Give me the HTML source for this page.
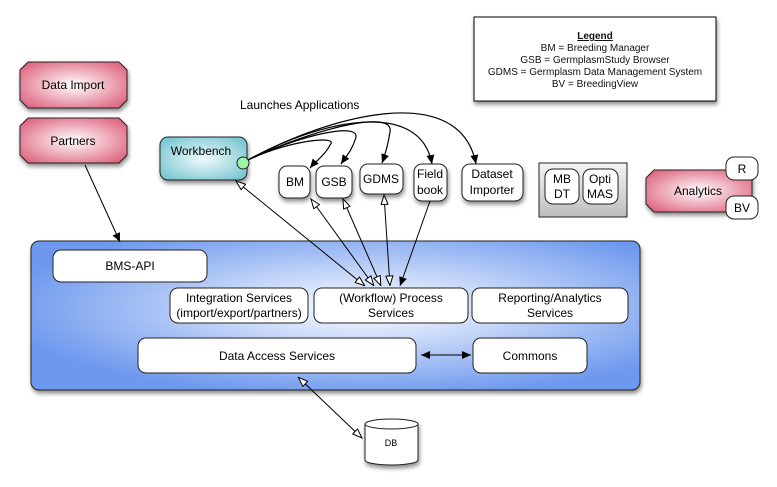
<!DOCTYPE html>
<html><head><meta charset="utf-8"><style>
body{margin:0;background:#fff;}
svg{display:block;font-family:"Liberation Sans",Arial,sans-serif;}
</style></head><body>
<svg width="777" height="487" viewBox="0 0 777 487" xmlns="http://www.w3.org/2000/svg">
<defs>
<radialGradient id="pink" cx="50%" cy="50%" r="60%"><stop offset="0" stop-color="#fff"/><stop offset="1" stop-color="#e06b85"/></radialGradient>
<radialGradient id="teal" cx="50%" cy="50%" r="60%"><stop offset="0" stop-color="#f2fcfd"/><stop offset="1" stop-color="#7cc8d2"/></radialGradient>
<radialGradient id="blue" cx="55%" cy="45%" r="60%"><stop offset="0" stop-color="#fff"/><stop offset="1" stop-color="#6d98ee"/></radialGradient>
<linearGradient id="gray" x1="0" y1="0" x2="0" y2="1"><stop offset="0" stop-color="#f4f4f4"/><stop offset="1" stop-color="#bdbdbd"/></linearGradient>
<filter id="sh" x="-10%" y="-10%" width="130%" height="140%"><feDropShadow dx="1" dy="3" stdDeviation="2" flood-opacity="0.45"/></filter>
<marker id="fa" markerWidth="10" markerHeight="10" refX="9" refY="4" orient="auto" markerUnits="userSpaceOnUse"><path d="M0,0 L9,4 L0,8 z" fill="#000"/></marker>
<marker id="oa" markerWidth="12" markerHeight="10" refX="10" refY="4" orient="auto" markerUnits="userSpaceOnUse"><path d="M0.5,0.5 L10,4 L0.5,7.5 z" fill="#fff" stroke="#000" stroke-width="1"/></marker>
<marker id="oas" markerWidth="12" markerHeight="10" refX="0" refY="4" orient="auto" markerUnits="userSpaceOnUse"><path d="M10,0.5 L0.5,4 L10,7.5 z" fill="#fff" stroke="#000" stroke-width="1"/></marker>
<marker id="fas" markerWidth="10" markerHeight="10" refX="0" refY="4" orient="auto" markerUnits="userSpaceOnUse"><path d="M9,0 L0,4 L9,8 z" fill="#000"/></marker>
</defs>

<rect x="474" y="17" width="242" height="84" fill="#fff" stroke="#000" filter="url(#sh)"/>
<g font-size="10" text-anchor="middle" fill="#111">
<text x="595" y="39" font-weight="bold" text-decoration="underline">Legend</text>
<text x="595" y="51">BM = Breeding Manager</text>
<text x="595" y="63">GSB = GermplasmStudy Browser</text>
<text x="595" y="75">GDMS = Germplasm Data Management System</text>
<text x="595" y="87">BV = BreedingView</text>
</g>

<g filter="url(#sh)" stroke="#222" fill="url(#pink)">
<path d="M28,62 H119 L127,70 V100 L119,108 H28 L20,100 V70 z"/>
<path d="M28,118 H119 L127,126 V155 L119,163 H28 L20,155 V126 z"/>
<path d="M654,170 H752 V212 H654 L646,204 V178 z"/>
</g>
<g font-size="12" text-anchor="middle">
<text x="73" y="89">Data Import</text>
<text x="73" y="145">Partners</text>
<text x="698" y="195">Analytics</text>
</g>

<rect x="160" y="137" width="87" height="43" rx="8" fill="url(#teal)" stroke="#222" filter="url(#sh)"/>
<text x="201" y="155" font-size="12" text-anchor="middle">Workbench</text>

<text x="240" y="109" font-size="12">Launches Applications</text>

<rect x="31" y="241" width="609" height="149" rx="8" fill="url(#blue)" stroke="#222" filter="url(#sh)"/>

<g fill="#fff" stroke="#222">
<rect x="279" y="166" width="31" height="32" rx="8" filter="url(#sh)"/>
<rect x="316" y="166" width="36" height="32" rx="8" filter="url(#sh)"/>
<rect x="360" y="164" width="43" height="30" rx="8" filter="url(#sh)"/>
<rect x="414" y="164" width="33" height="37" rx="8" filter="url(#sh)"/>
<rect x="462" y="164" width="61" height="37" rx="8" filter="url(#sh)"/>
<rect x="539" y="163" width="88" height="54" fill="url(#gray)" rx="0"/>
<rect x="545" y="169" width="34" height="35" rx="8"/>
<rect x="583" y="169" width="35" height="35" rx="8"/>
<rect x="726" y="157" width="32" height="23" rx="8"/>
<rect x="726" y="196" width="32" height="23" rx="8"/>
<rect x="53" y="250" width="154" height="32" rx="8"/>
<rect x="170" y="288" width="138" height="35" rx="8"/>
<rect x="314" y="288" width="154" height="35" rx="8"/>
<rect x="472" y="288" width="156" height="35" rx="8"/>
<rect x="138" y="338" width="278" height="35" rx="8"/>
<rect x="473" y="338" width="114" height="35" rx="8"/>
</g>
<g font-size="12" text-anchor="middle">
<text x="295" y="186">BM</text>
<text x="334" y="186">GSB</text>
<text x="381" y="183">GDMS</text>
<text x="430" y="178">Field</text><text x="430" y="194">book</text>
<text x="492" y="178">Dataset</text><text x="492" y="194">Importer</text>
<text x="562" y="183">MB</text><text x="562" y="198">DT</text>
<text x="600" y="183">Opti</text><text x="600" y="198">MAS</text>
<text x="742" y="173">R</text>
<text x="742" y="212">BV</text>
<text x="130" y="270">BMS-API</text>
<text x="239" y="302">Integration Services</text><text x="239" y="317">(import/export/partners)</text>
<text x="391" y="302">(Workflow) Process</text><text x="391" y="317">Services</text>
<text x="550" y="302">Reporting/Analytics</text><text x="550" y="317">Services</text>
<text x="277" y="360">Data Access Services</text>
<text x="530" y="360">Commons</text>
</g>

<g filter="url(#sh)">
<path d="M365,424 V460 A26.5,5 0 0 0 418,460 V424" fill="#fff" stroke="#222"/>
<ellipse cx="391.5" cy="424" rx="26.5" ry="5" fill="#fff" stroke="#222"/>
</g>
<text x="391" y="446" font-size="9" text-anchor="middle">DB</text>

<g fill="none" stroke="#000" stroke-width="1">
<line x1="85" y1="165" x2="120" y2="242" marker-end="url(#fa)"/>
<line x1="365" y1="286" x2="236" y2="181" marker-start="url(#oas)" marker-end="url(#oa)"/>
<line x1="374" y1="286" x2="311" y2="199" marker-start="url(#oas)" marker-end="url(#oa)"/>
<line x1="381" y1="286" x2="343" y2="199" marker-start="url(#oas)" marker-end="url(#oa)"/>
<line x1="390" y1="286" x2="384" y2="195" marker-start="url(#oas)" marker-end="url(#oa)"/>
<line x1="430" y1="201" x2="400" y2="286" marker-end="url(#fa)"/>
<line x1="421" y1="355" x2="471" y2="355" marker-start="url(#fas)" marker-end="url(#fa)"/>
<line x1="298" y1="377" x2="362" y2="438" marker-start="url(#oas)" marker-end="url(#oa)"/>
<g stroke-width="1.2">
<path d="M248,160 C290,140 340,135 330,145 C325,155 315,162 310,168" marker-end="url(#fa)"/>
<path d="M248,160 C300,135 365,120 355,140 C352,150 345,158 341,164" marker-end="url(#fa)"/>
<path d="M248,160 C310,130 395,108 390,132 C388,145 385,155 382,163" marker-end="url(#fa)"/>
<path d="M248,160 C320,120 420,98 432,164" marker-end="url(#fa)"/>
<path d="M248,160 C330,115 460,80 476,164" marker-end="url(#fa)"/>
</g>
</g>
<circle cx="243" cy="163" r="6" fill="#9ef5a8" stroke="#222"/>
</svg>
</body></html>
